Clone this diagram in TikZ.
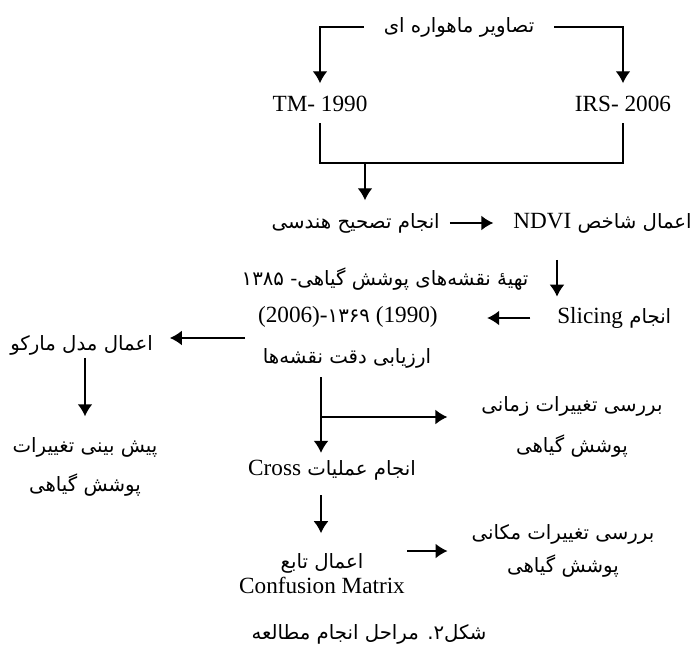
\documentclass[tikz,border=0pt]{standalone}
\usepackage{fontspec}
\setmainfont{Liberation Serif}
\newfontfamily\fafont[Script=Arabic,Scale=0.85]{DejaVu Sans}
\usetikzlibrary{arrows.meta}
\TeXXeTstate=1
\newcommand{\fatext}[1]{{\fafont\beginR #1\endR}}
\newcommand{\latin}[1]{{\rmfamily\beginL #1\endL}}

\begin{document}
\begin{tikzpicture}[x=0.025cm,y=-0.025cm]
        \tikzset{every node/.style={inner sep=0pt, font=\fontsize{16.5}{20}\selectfont},
            txt/.style={text height=11pt, text depth=3pt},
            stack/.style={align=center, font=\fontsize{16.5}{#1}\selectfont},
            line/.style={draw, line width=1pt},
            arr/.style={line, -{Latex[length=8.5pt,width=10.5pt]}}}
        \useasboundingbox (0,0) rectangle (696,652);
        % text
        \node[txt, minimum width=4.75cm] (sat) at (459,27) {\fatext{تصاویر ماهواره ای}};
        \node[txt] (tm) at (320,106) {TM- 1990};
        \node[txt] (irs) at (623,106) {IRS- 2006};
        \node[txt, anchor=east] (tashih) at (440,223) {\fatext{انجام تصحیح هندسی}};
        \node[txt, anchor=west] (ndvi) at (513,223) {\fatext{اعمال شاخص \latin{NDVI}}};
        \node[txt] (maps1) at (385,280) {\fatext{تهیهٔ نقشه‌های پوشش گیاهی- ۱۳۸۵}};
        \node[txt, anchor=east] (maps2) at (438,317) {\beginL(2006)-{\fafont ۱۳۶۹} (1990)\endL};
        \node[txt, anchor=west] (slicing) at (557,318) {\fatext{انجام \latin{Slicing}}};
        \node[txt] (accuracy) at (347,358) {\fatext{ارزیابی دقت نقشه‌ها}};
        \node[txt, anchor=east] (markov) at (153,345) {\fatext{اعمال مدل مارکو}};
        \node[stack=27.7pt] (predict) at (85,467) {\fatext{پیش بینی تغییرات}\\\fatext{پوشش گیاهی}};
        \node[stack=29pt] (temporal) at (572,427) {\fatext{بررسی تغییرات زمانی}\\\fatext{پوشش گیاهی}};
        \node[txt] (cross) at (332,470) {\fatext{انجام عملیات \latin{Cross}}};
        \node[txt] (func) at (322,563) {\fatext{اعمال تابع}};
        \node[txt] (confmat) at (322,588) {Confusion Matrix};
        \node[stack=24pt] (spatial) at (563,551) {\fatext{بررسی تغییرات مکانی}\\\fatext{پوشش گیاهی}};
        \node[txt] (caption) at (369,634) {\fatext{شکل۲. مراحل انجام مطالعه}};
        % connectors
        \coordinate (join) at (365,163);
        \coordinate (branch) at (321,417);
        \draw[arr, shorten >=9pt] (sat.west) -| (tm.north);
        \draw[arr, shorten >=9pt] (sat.east) -| (irs.north);
        \draw[line, shorten <=5pt, shorten >=5pt] (tm.south) |- (join) -| (irs.south);
        \draw[arr, shorten >=9pt] (join) -- (join |- tashih.north);
        \draw[arr, shorten <=7pt, shorten >=14pt] (tashih.east) -- (ndvi.west);
        \draw[arr, shorten <=19pt, shorten >=8pt] (ndvi.south -| slicing.west) -- (slicing.north west);
        \draw[arr, shorten <=19pt, shorten >=35pt] (slicing.west) -- (slicing.west -| maps2.east);
        \draw[arr, shorten <=9pt, shorten >=12pt] ([yshift=5pt]markov.east -| maps2.west) -- ([yshift=5pt]markov.east);
        \draw[arr, shorten <=2pt, shorten >=15pt] (predict.north |- markov.south) -- (predict.north);
        \draw[line, shorten <=6.4pt] (accuracy.south -| branch) -- (branch);
        \draw[arr, shorten >=5pt] (branch) -- (branch |- cross.north);
        \draw[arr, shorten >=24pt] (branch) -- (branch -| temporal.west);
        \draw[arr, shorten <=10.7pt, shorten >=14pt] (cross.south -| branch) -- (branch |- func.north);
        \draw[arr, shorten <=1.5pt, shorten >=17pt] (confmat.east |- spatial.west) -- (spatial.west);
\end{tikzpicture}
\end{document}
